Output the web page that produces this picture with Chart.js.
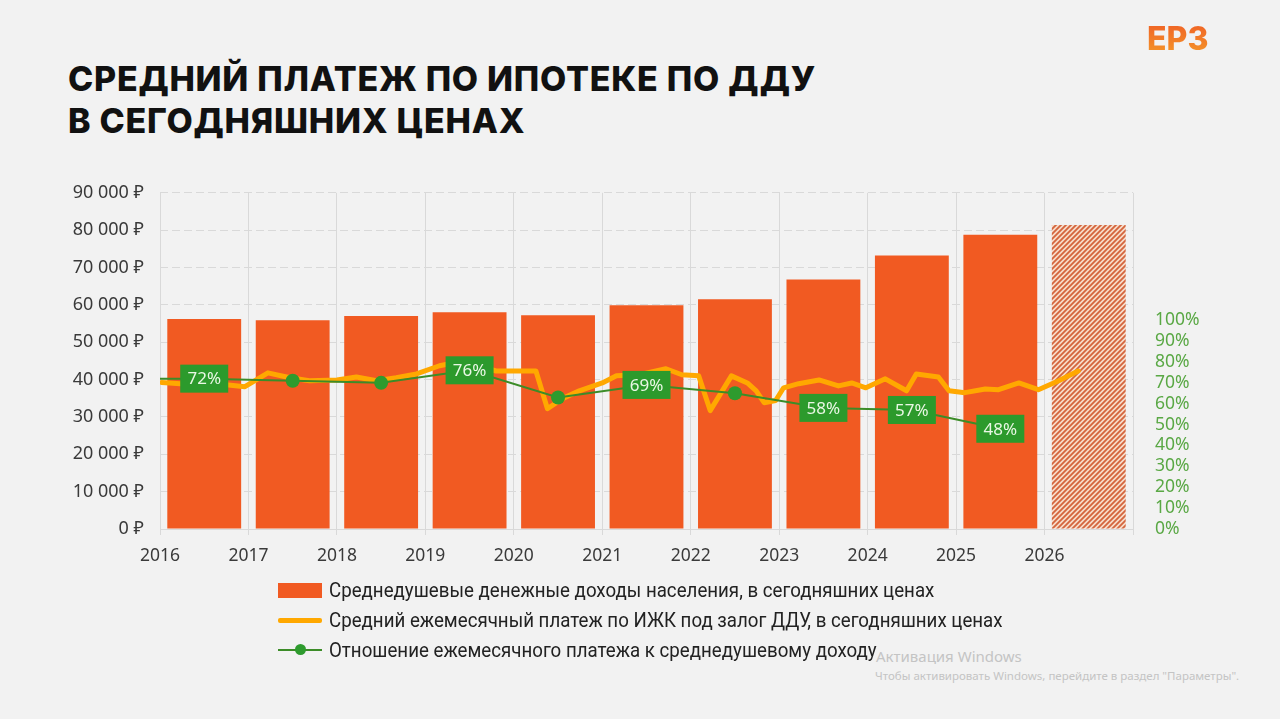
<!DOCTYPE html>
<html lang="ru">
<head>
<meta charset="utf-8">
<title>Средний платеж по ипотеке по ДДУ</title>
<script src="https://cdn.jsdelivr.net/npm/chart.js@4.4.1/dist/chart.umd.min.js"></script>
<style>
  html, body { margin: 0; padding: 0; }
  body { width: 1280px; height: 719px; background: #f2f2f2; position: relative; overflow: hidden; font-family: "Noto Sans", sans-serif; }
  #title { position: absolute; left: 68px; top: 58px; margin: 0; font: 800 34px/42px Inter, "Open Sans", sans-serif; color: #111; letter-spacing: 0.75px; }
  #logo { position: absolute; left: 1147px; top: 21px; font: 800 32px/36px Inter, sans-serif;
          background: linear-gradient(#ef5f25, #f59a2a); -webkit-background-clip: text; color: transparent; }
  #wrap { position: absolute; left: 0; top: 166px; width: 1280px; height: 403px; }
  #legend { position: absolute; left: 278px; top: 575px; font: 20px "Roboto", sans-serif; color: #222; }
  .item { height: 30px; display: flex; align-items: center; white-space: nowrap; }
  .item span.t { display: inline-block; transform: scaleX(0.935); transform-origin: left center; }
  .sw { width: 44px; height: 15px; margin-right: 7px; position: relative; flex: none; }
  .bar { background: #f15a22; }
  .line { height: 5px; background: #ffa800; border-radius: 2px; }
  .dot { height: 2px; background: #3c8c28; }
  .dot::after { content: ""; position: absolute; left: 17px; top: -5px; width: 11px; height: 11px; border-radius: 50%; background: #2e9b2e; }
  #wm { position: absolute; left: 876px; top: 646px; color: #c4c4c4; font-family: "Noto Sans", sans-serif; }
  #wm .a { font-size: 15px; line-height: 20px; }
  #wm .b { font-size: 11.5px; line-height: 20px; margin-left: -1px; }
</style>
</head>
<body>
<h1 id="title">СРЕДНИЙ ПЛАТЕЖ ПО ИПОТЕКЕ ПО ДДУ<br>В СЕГОДНЯШНИХ ЦЕНАХ</h1>
<div id="logo">ЕРЗ</div>
<div id="wrap"><canvas id="chart"></canvas></div>
<div id="legend">
  <div class="item"><span class="sw bar"></span><span class="t">Среднедушевые денежные доходы населения, в сегодняшних ценах</span></div>
  <div class="item"><span class="sw line"></span><span class="t">Средний ежемесячный платеж по ИЖК под залог ДДУ, в сегодняшних ценах</span></div>
  <div class="item"><span class="sw dot"></span><span class="t">Отношение ежемесячного платежа к среднедушевому доходу</span></div>
</div>
<div id="wm"><div class="a">Активация Windows</div><div class="b">Чтобы активировать Windows, перейдите в раздел "Параметры".</div></div>
<script>
"use strict";

// bars: one per year, drawn at mid-year
const incomeYears = [2016.5, 2017.5, 2018.5, 2019.5, 2020.5, 2021.5, 2022.5, 2023.5, 2024.5, 2025.5, 2026.5];
const incomeValues = [56200, 55900, 57000, 58000, 57200, 59900, 61500, 66800, 73200, 78800, 81400];
const incomeForecast = [false, false, false, false, false, false, false, false, false, false, true];

// monthly-ish payment line
const paymentDates = [2016.02, 2016.23, 2016.56, 2016.96, 2017.22, 2017.47, 2017.69, 2018.0, 2018.22, 2018.45,
  2018.67, 2018.9, 2019.16, 2019.33, 2019.55, 2019.8, 2020.25, 2020.38, 2020.55, 2020.74,
  2021.0, 2021.16, 2021.42, 2021.72, 2021.9, 2022.09, 2022.22, 2022.46, 2022.64, 2022.74,
  2022.83, 2022.96, 2023.05, 2023.22, 2023.45, 2023.67, 2023.82, 2023.98, 2024.2, 2024.44,
  2024.55, 2024.8, 2024.92, 2025.1, 2025.33, 2025.48, 2025.71, 2025.93, 2026.16, 2026.38];
const paymentValues = [39200, 38900, 39100, 38100, 41800, 40500, 39700, 39900, 40700, 39700,
  40500, 41500, 43700, 44500, 44000, 42300, 42300, 32200, 34900, 37000,
  39100, 41000, 41300, 42900, 41300, 41000, 31700, 41000, 39100, 37000,
  33800, 34400, 37800, 38900, 39900, 38300, 39100, 37800, 40200, 37000,
  41500, 40700, 37000, 36500, 37500, 37300, 39100, 37300, 39700, 42300];

// ratio of payment to income, %
const ratioDates = [2016.0, 2016.5, 2017.5, 2018.5, 2019.5, 2020.5, 2021.5, 2022.5, 2023.5, 2024.5, 2025.5];
const ratioValues = [72, 72, 71, 70, 76, 63, 69, 65, 58, 57, 48];
const ratioLabelled = [false, true, false, false, true, false, true, false, true, true, true];

const xTickYears = [2016, 2017, 2018, 2019, 2020, 2021, 2022, 2023, 2024, 2025, 2026, 2027];
const rubleTicks = [0, 10000, 20000, 30000, 40000, 50000, 60000, 70000, 80000, 90000];
const percentTicks = [0, 10, 20, 30, 40, 50, 60, 70, 80, 90, 100];

function hatch() {
  const c = document.createElement("canvas");
  c.width = 5; c.height = 5;
  const g = c.getContext("2d");
  g.fillStyle = "#f7dcc9";
  g.fillRect(0, 0, 5, 5);
  g.strokeStyle = "#d4653d";
  g.lineWidth = 1.8;
  g.beginPath();
  g.moveTo(-1, 6); g.lineTo(6, -1);
  g.moveTo(-4, 4); g.lineTo(4, -4);
  g.moveTo(1, 9); g.lineTo(9, 1);
  g.stroke();
  return g.createPattern(c, "repeat");
}

const rub = v => v === 0 ? "0 ₽" : (v / 1000) + " 000 ₽";

const ratioBoxes = {
  id: "ratioBoxes",
  afterDatasetsDraw(chart) {
    const ctx = chart.ctx;
    const xs = chart.scales.x, ys = chart.scales.y1;
    ctx.save();
    ctx.font = "17px 'Noto Sans', sans-serif";
    ctx.textAlign = "center";
    ctx.textBaseline = "middle";
    ratioValues.forEach((v, i) => {
      if (!ratioLabelled[i]) return;
      const x = xs.getPixelForValue(ratioDates[i]);
      const y = ys.getPixelForValue(v);
      ctx.fillStyle = "#2c9a2c";
      ctx.fillRect(x - 24, y - 14, 48, 28);
      ctx.fillStyle = "#e9f7e4";
      ctx.fillText(v + "%", x, y + 1);
    });
    ctx.restore();
  }
};

const ctx = document.getElementById("chart").getContext("2d");
const pattern = hatch();
const tickFont = { size: 17.5, family: "'Noto Sans', sans-serif" };

new Chart(ctx, {
  type: "bar",
  data: {
    datasets: [
      {
        type: "line",
        label: "Отношение",
        data: ratioDates.map((d, i) => ({ x: d, y: ratioValues[i] })),
        yAxisID: "y1",
        borderColor: "#3c8c28",
        borderWidth: 2,
        pointRadius: ratioDates.map((d, i) => (i === 0 || ratioLabelled[i]) ? 0 : 7),
        pointBackgroundColor: "#2e9b2e",
        pointBorderWidth: 0,
        tension: 0,
        order: 0
      },
      {
        type: "line",
        label: "Платеж",
        data: paymentDates.map((d, i) => ({ x: d, y: paymentValues[i] })),
        yAxisID: "y",
        borderColor: "#ffa800",
        borderWidth: 5,
        borderJoinStyle: "round",
        borderCapStyle: "round",
        pointRadius: 0,
        tension: 0,
        order: 1
      },
      {
        label: "Доходы",
        data: incomeYears.map((d, i) => ({ x: d, y: incomeValues[i] })),
        yAxisID: "y",
        backgroundColor: incomeForecast.map(f => f ? pattern : "#f15a22"),
        barPercentage: 0.835,
        categoryPercentage: 1,
        order: 2
      }
    ]
  },
  options: {
    responsive: true,
    maintainAspectRatio: false,
    animation: false,
    layout: { padding: 0 },
    plugins: { legend: { display: false }, tooltip: { enabled: false } },
    scales: {
      x: {
        type: "linear",
        offset: false,
        min: 2016,
        max: 2027,
        afterBuildTicks: s => { s.ticks = xTickYears.map(v => ({ value: v })); },
        afterFit: s => { s.height = 40; },
        grid: { color: "#d9d9d9", tickLength: 6, offset: false },
        border: { color: "#d9d9d9" },
        ticks: { color: "#3a3a3a", font: tickFont, padding: 11, maxRotation: 0, callback: v => v === 2027 ? "" : String(v) }
      },
      y: {
        position: "left",
        min: 0,
        max: 90000,
        afterBuildTicks: s => { s.ticks = rubleTicks.map(v => ({ value: v })); },
        afterFit: s => { s.width = 160; },
        grid: { color: "#d9d9d9", drawTicks: false },
        border: { display: false, dash: [8, 4] },
        ticks: { color: "#3a3a3a", font: { size: 18, family: "'Noto Sans', sans-serif" }, padding: 16, callback: rub }
      },
      y1: {
        position: "right",
        min: 0,
        max: 161,
        afterBuildTicks: s => { s.ticks = percentTicks.map(v => ({ value: v })); },
        afterFit: s => { s.width = 147; },
        grid: { display: false },
        border: { display: false },
        ticks: { color: "#5aa845", font: tickFont, padding: 14, callback: v => v + "%" }
      }
    }
  },
  plugins: [ratioBoxes]
});
</script>
</body>
</html>
